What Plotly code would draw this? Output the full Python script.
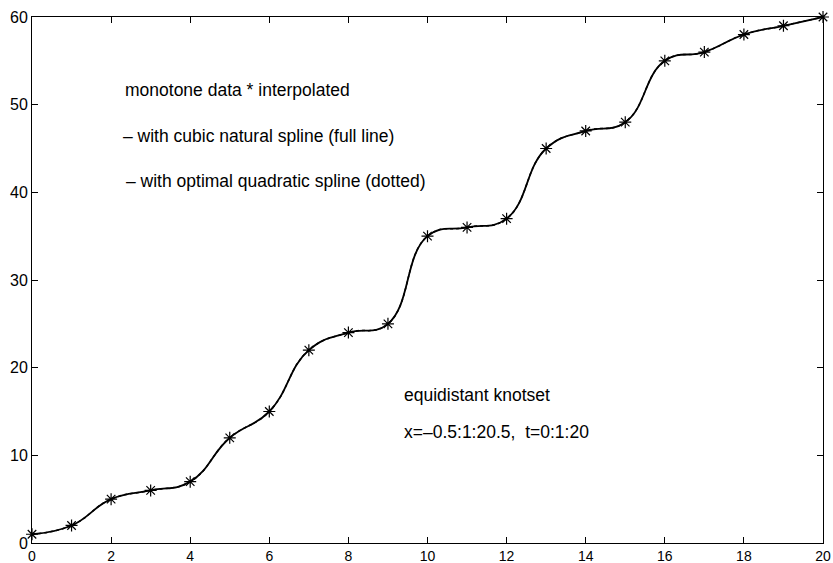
import plotly.graph_objects as go

x_knots = list(range(0, 21))
y_data = [1, 2, 5, 6, 7, 12, 15, 22, 24, 25, 35, 36, 37, 45, 47, 48, 55, 56, 58, 59, 60]
x_ticks = [0, 2, 4, 6, 8, 10, 12, 14, 16, 18, 20]
y_ticks = [0, 10, 20, 30, 40, 50, 60]

fig = go.Figure()
# optimal quadratic spline (dotted)
fig.add_trace(go.Scatter(x=x_knots, y=y_data, mode="lines",
                         line=dict(color="black", width=1.5, dash="dot", shape="spline", smoothing=1.3),
                         showlegend=False))
# cubic natural spline (full line)
fig.add_trace(go.Scatter(x=x_knots, y=y_data, mode="lines",
                         line=dict(color="black", width=1.8, shape="spline", smoothing=1.3),
                         showlegend=False))
# data points
fig.add_trace(go.Scatter(x=x_knots, y=y_data, mode="markers",
                         marker=dict(symbol="asterisk-open", size=10, color="black",
                                     line=dict(color="black", width=1.2)),
                         showlegend=False, cliponaxis=False))

L, R, T, B = 32, 823, 17, 543
font = dict(family="Liberation Sans, Arial, sans-serif", size=17.5, color="black")
texts = [
    ("monotone data * interpolated", 123, 90),
    ("– with cubic natural spline (full line)", 121, 136),
    ("– with optimal quadratic spline (dotted)", 124, 181),
    ("equidistant knotset", 402, 395),
    ("x=–0.5:1:20.5,  t=0:1:20", 402, 432),
]
for t, px, py in texts:
    fig.add_annotation(text=t, xref="paper", yref="paper",
                       x=(px - L) / (R - L), y=1 - (py - T) / (B - T),
                       xanchor="left", yanchor="middle", showarrow=False, font=font)

axis_common = dict(showgrid=False, zeroline=False, showline=True, linecolor="black", linewidth=1,
                   mirror="ticks", ticks="inside", ticklen=6, tickcolor="black", tickwidth=1,
                   automargin=False)
fig.update_xaxes(range=[0, 20], tickvals=x_ticks, ticklabelstandoff=0,
                 tickfont=dict(family="Liberation Sans, Arial, sans-serif", size=14, color="black"),
                 **axis_common)
fig.update_yaxes(range=[0, 60], tickvals=y_ticks, ticklabelstandoff=0,
                 tickfont=dict(family="Liberation Sans, Arial, sans-serif", size=16, color="black"),
                 **axis_common)

W, H = 833, 563
fig.update_layout(width=W, height=H, plot_bgcolor="white", paper_bgcolor="white",
                  margin=dict(l=L, r=W - R, t=T, b=H - B))
fig.write_html("out.html", config={"displayModeBar": False},
               post_script="document.body.style.margin='0';document.body.style.overflow='hidden';")
